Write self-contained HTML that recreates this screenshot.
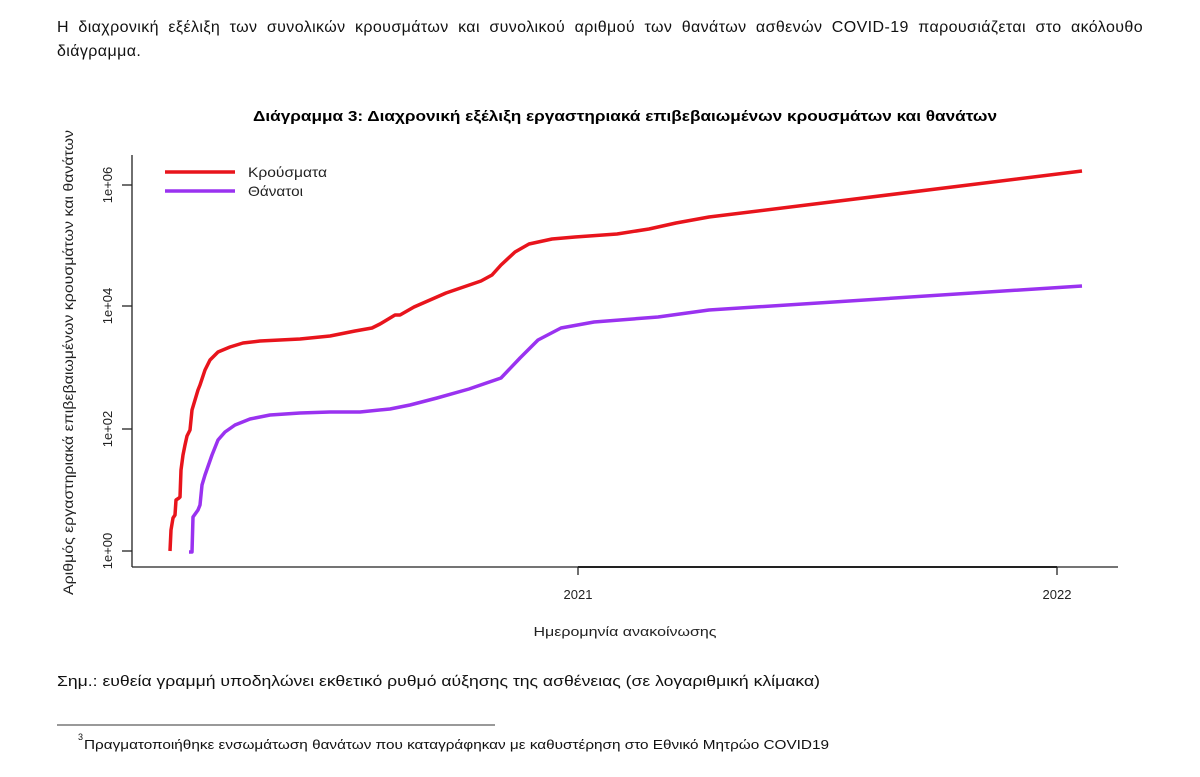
<!DOCTYPE html>
<html><head><meta charset="utf-8">
<style>
body{margin:0;background:#fff;width:1200px;height:777px;overflow:hidden;font-family:"Liberation Sans",sans-serif;color:#111;}
.p{position:absolute;left:57px;width:1086px;font-size:16px;letter-spacing:0.4px;line-height:24px;}
.j{text-align:justify;text-align-last:justify;}
</style></head><body>
<div class="p j" style="top:16px">Η διαχρονική εξέλιξη των συνολικών κρουσμάτων και συνολικού αριθμού των θανάτων ασθενών COVID-19 παρουσιάζεται στο ακόλουθο</div>
<div class="p" style="top:40px">διάγραμμα.</div>
<svg width="1200" height="777" style="position:absolute;left:0;top:0" font-family="Liberation Sans, sans-serif">
<text x="253" y="121" font-size="15" font-weight="bold" textLength="744" lengthAdjust="spacingAndGlyphs">Διάγραμμα 3: Διαχρονική εξέλιξη εργαστηριακά επιβεβαιωμένων κρουσμάτων και θανάτων</text>
<g stroke="#222" stroke-width="1.3" fill="none">
<line x1="132" y1="155" x2="132" y2="567"/>
<line x1="132" y1="567" x2="1118" y2="567"/>
<line x1="122" y1="185" x2="132" y2="185"/>
<line x1="122" y1="306" x2="132" y2="306"/>
<line x1="122" y1="429" x2="132" y2="429"/>
<line x1="122" y1="551" x2="132" y2="551"/>
<line x1="578" y1="567" x2="1057" y2="567" stroke-width="2"/>
<line x1="578" y1="567" x2="578" y2="575"/>
<line x1="1057" y1="567" x2="1057" y2="575"/>
</g>
<g font-size="13" text-anchor="middle" fill="#222">
<text transform="translate(112,185) rotate(-90)">1e+06</text>
<text transform="translate(112,306) rotate(-90)">1e+04</text>
<text transform="translate(112,429) rotate(-90)">1e+02</text>
<text transform="translate(112,551) rotate(-90)">1e+00</text>
<text x="578" y="599">2021</text>
<text x="1057" y="599">2022</text>
<text x="625" y="636" font-size="13" textLength="183" lengthAdjust="spacingAndGlyphs">Ημερομηνία ανακοίνωσης</text>
</g>
<text transform="translate(73,595) rotate(-90)" font-size="14" fill="#222" textLength="465" lengthAdjust="spacingAndGlyphs">Αριθμός εργαστηριακά επιβεβαιωμένων κρουσμάτων και θανάτων</text>
<line x1="165" y1="172" x2="235" y2="172" stroke="#e8141c" stroke-width="3.5"/>
<line x1="165" y1="191" x2="235" y2="191" stroke="#9a32f0" stroke-width="3.5"/>
<text x="248" y="177" font-size="14" fill="#222" textLength="79" lengthAdjust="spacingAndGlyphs">Κρούσματα</text>
<text x="248" y="196" font-size="14" fill="#222" textLength="55" lengthAdjust="spacingAndGlyphs">Θάνατοι</text>
<polyline fill="none" stroke="#e8141c" stroke-width="3.5" stroke-linejoin="round" points="170,551 171,530 173,518 175,515 176,500 179,498 180,497 181,470 183,455 185,445 187,436 190,430 192,410 195,400 198,390 200,385 205,370 210,360 218,352 230,347 243,343 260,341 300,339 330,336 355,331 372,328 380,324 395,315 400,315 414,307 446,293 481,281 492,275 501,265 515,252 529,244 552,239 575,237 617,234 649,229 676,223 709,217 1082,171"/>
<polyline fill="none" stroke="#9a32f0" stroke-width="3.5" stroke-linejoin="round" points="189,552 192,552 193,517 198,510 200,505 202,485 205,475 212,455 218,440 225,432 235,425 250,419 270,415 300,413 330,412 360,412 390,409 410,405 437,398 469,389 501,378 520,358 538,340 561,328 594,322 658,317 709,310 1082,286"/>
<text x="57" y="686" font-size="15" fill="#111" textLength="763" lengthAdjust="spacingAndGlyphs">Σημ.: ευθεία γραμμή υποδηλώνει εκθετικό ρυθμό αύξησης της ασθένειας (σε λογαριθμική κλίμακα)</text>
<line x1="57" y1="725" x2="495" y2="725" stroke="#333" stroke-width="1"/>
<text x="78" y="740" font-size="9" fill="#111">3</text>
<text x="84" y="749" font-size="13" fill="#111" textLength="745" lengthAdjust="spacingAndGlyphs">Πραγματοποιήθηκε ενσωμάτωση θανάτων που καταγράφηκαν με καθυστέρηση στο Εθνικό Μητρώο COVID19</text>
</svg>
</body></html>
